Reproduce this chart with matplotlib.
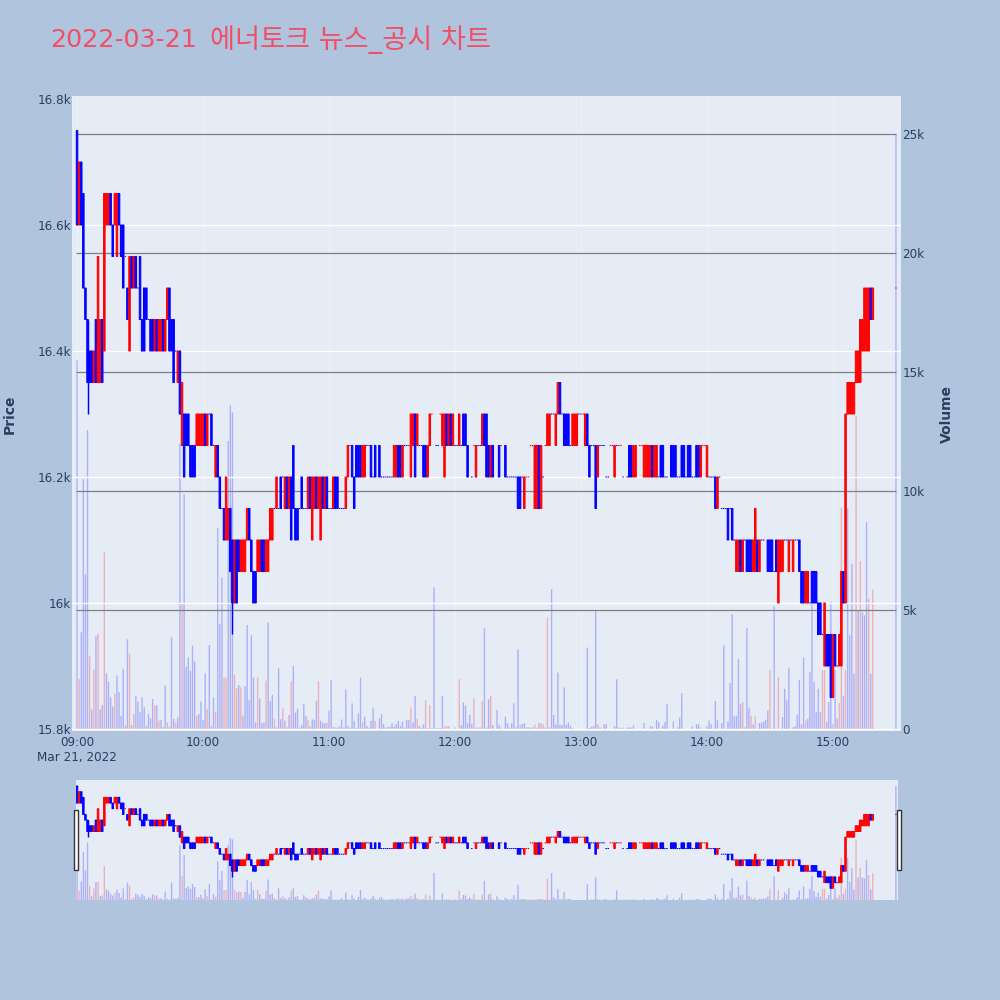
import numpy as np
import matplotlib
matplotlib.use('Agg')
import matplotlib.pyplot as plt
from matplotlib.patches import Rectangle

plt.rcParams['font.family'] = ['DejaVu Sans', 'Noto Sans CJK KR']

N = None
# 분봉 시가 (09:00 ~ 15:30), 한 줄에 10개
opens = [
    16750,16600,16700,16650,16500,16450,16400,16400,16350,16450,
    16350,16350,16450,16400,16600,16600,16650,16600,16600,16550,
    16650,16600,16600,16550,16500,16400,16550,16500,16550,16500,
    16550,16450,16500,16500,16450,16450,16450,16400,16450,16400,
    16400,16450,16400,16450,16500,16450,16450,16400,16350,16400,
    16250,16300,16300,16300,16250,16250,16250,16250,16250,16250,
    16250,16300,16250,16300,16300,16250,16200,16250,16200,16150,
    16150,16100,16100,16150,16100,16000,16100,16100,16050,16050,
    16050,16100,16150,16100,16050,16050,16050,16050,16100,16100,
    16050,16050,16100,16100,16150,16150,16150,16200,16200,16150,
    16200,16150,16200,16250,16150,16150,16150,16200,16150,16150,
    16150,16200,16100,16150,16200,16150,16100,16200,16150,16200,
    16150,16150,16150,16200,16200,16150,16150,16150,16150,16200,
    16250,16250,16200,16250,16250,16250,16200,16200,16250,16250,
    16250,16200,16250,N,16250,16200,16200,16200,16200,16200,
    16200,16200,16200,16250,16250,16200,16250,16250,16250,16200,
    16250,16300,16250,16250,16250,16250,16250,16200,16250,16300,
    N,16250,16250,16300,16250,16200,16300,16250,16300,16250,
    16250,16250,16250,16250,16300,16300,16250,N,16200,16250,
    16200,16250,16250,16250,16300,16300,16250,16200,16250,N,
    N,16250,16250,N,16250,16200,16200,16200,16200,16200,
    16200,16200,16200,16150,16200,16200,16250,16250,16150,16150,
    16250,16150,16200,16250,16250,16250,16300,16300,16250,16300,
    16350,16300,16300,16300,16300,16250,16250,16250,16250,16300,
    16300,16300,16250,16300,16250,16250,16250,16250,16200,16250,
    16250,16250,16200,16200,16250,16250,16200,16250,16250,16250,
    16200,N,16200,16250,16250,16200,16200,N,16250,16250,
    16200,16200,16200,16200,16250,16200,16200,16200,16250,16250,
    16200,16200,N,16250,16250,16250,16200,16200,16250,16250,
    16200,16250,16250,16200,16200,16250,16250,16200,16250,16250,
    16200,16200,16200,16200,16200,16150,16200,16150,16150,16150,
    16150,16150,16150,16100,16050,16050,16100,16050,16100,16100,
    16100,16100,16050,16050,16100,16050,16100,16100,N,16100,
    16100,16100,16050,16100,16000,16050,16050,16100,16100,16050,
    16100,16050,16100,16100,16100,16050,16050,16000,16000,16000,
    16050,16050,16050,16000,16000,15950,15900,15950,15950,15950,
    15850,15950,15900,15900,15900,16050,16000,16300,16300,16300,
    16300,16350,16350,16350,16400,16400,16400,16400,16500,16450,
    N,N,N,N,N,N,N,N,N,N,
    16500]
# 분봉 종가
closes = [
    16600,16700,16600,16500,16450,16350,16350,16350,16400,16350,
    16550,16450,16350,16650,16650,16650,16600,16550,16650,16650,
    16600,16550,16500,16550,16450,16550,16500,16550,16500,16500,
    16450,16400,16400,16450,16450,16400,16400,16450,16400,16450,
    16450,16400,16450,16500,16400,16400,16350,16400,16400,16300,
    16350,16200,16250,16250,16200,16200,16200,16300,16300,16300,
    16300,16250,16300,16300,16250,16250,16250,16200,16150,16150,
    16100,16200,16150,16050,16000,16100,16000,16050,16100,16100,
    16100,16150,16100,16050,16000,16000,16100,16100,16050,16050,
    16100,16100,16150,16150,16150,16200,16150,16150,16200,16200,
    16150,16200,16100,16150,16100,16100,16150,16150,16150,16150,
    16200,16150,16200,16200,16150,16200,16200,16150,16200,16150,
    16150,16150,16200,16150,16150,16150,16150,16150,16200,16250,
    16250,16200,16150,16200,16200,16200,16250,16250,16250,16250,
    16200,16200,16200,N,16200,16200,16200,16200,16200,16200,
    16200,16250,16250,16200,16200,16250,16250,16250,16250,16300,
    16300,16200,16300,16250,16250,16200,16200,16250,16300,16300,
    N,16250,16250,16300,16300,16300,16250,16300,16250,16300,
    16250,16250,16300,16250,16250,16250,16200,N,16200,16250,
    16250,16250,16250,16300,16250,16200,16200,16250,16200,N,
    N,16200,16250,N,16200,16200,16200,16200,16200,16200,
    16150,16150,16200,16200,16200,16200,16250,16250,16250,16250,
    16150,16250,16200,16250,16300,16300,16300,16300,16300,16350,
    16300,16300,16250,16250,16250,16250,16300,16300,16300,16300,
    16300,16300,16300,16250,16200,16250,16250,16150,16250,16250,
    16250,16250,16200,16200,16250,16250,16250,16250,16250,16250,
    16200,N,16200,16200,16200,16250,16250,N,16250,16250,
    16250,16250,16250,16250,16200,16250,16250,16200,16200,16200,
    16200,16200,N,16200,16200,16200,16200,16200,16200,16200,
    16200,16200,16200,16200,16200,16200,16200,16250,16250,16250,
    16250,16200,16200,16200,16150,16200,16200,16150,16150,16150,
    16100,16150,16100,16100,16100,16100,16050,16100,16100,16050,
    16050,16050,16100,16150,16050,16100,16100,16100,N,16050,
    16050,16050,16050,16050,16100,16100,16100,16100,16100,16100,
    16100,16100,16100,16100,16050,16000,16000,16050,16050,16000,
    16000,16000,16000,15950,15950,15950,16000,15900,15900,15850,
    15950,15900,15900,15950,16050,16000,16300,16350,16350,16350,
    16350,16400,16400,16450,16450,16500,16500,16500,16450,16500,
    N,N,N,N,N,N,N,N,N,N,
    16500]
# 분봉 거래량
volumes = [
    15500,2100,4060,10500,6500,12560,3070,830,2500,3900,
    4000,830,1000,7420,2340,1990,1330,940,1500,2250,
    1550,550,2530,170,3770,3180,170,630,1390,1150,
    700,1330,910,130,630,450,1260,1010,990,350,
    380,70,1820,270,100,3850,420,280,490,12000,
    5250,9860,2620,3010,2450,3500,2840,560,630,1150,
    380,2340,850,3530,130,1330,730,8430,4410,6360,
    2160,2160,12100,13600,13300,2270,1710,1850,1750,560,
    1800,4370,1220,3940,2170,270,2170,1290,240,270,
    2030,4480,1180,1430,410,70,2550,410,870,350,
    70,590,2000,2650,690,850,70,170,1050,550,
    380,100,410,380,1190,1990,350,270,240,270,
    770,2060,90,60,60,100,400,60,1670,130,
    50,1080,340,50,660,2160,270,520,130,50,
    340,900,340,0,450,620,200,60,80,100,
    240,100,200,340,130,310,60,380,380,910,
    270,1390,420,130,60,200,1220,40,1010,40,
    5950,40,40,40,1390,100,130,130,0,0,
    70,0,2090,170,1110,980,240,590,200,1300,
    60,60,60,1180,4230,60,1250,1400,170,0,
    800,170,70,0,520,240,60,240,1080,70,
    3350,170,210,240,70,70,50,70,190,50,
    240,240,190,60,4680,70,5880,590,190,2370,
    170,170,1750,170,270,130,40,0,0,0,
    0,0,0,3420,40,100,130,4970,200,70,
    0,200,200,0,0,0,130,2090,70,40,
    60,0,60,70,60,150,0,0,0,0,
    250,0,0,110,110,0,390,290,0,150,
    290,1040,0,0,320,0,70,480,1510,0,
    0,0,0,110,0,200,200,70,0,0,
    110,360,200,0,1180,360,0,250,3520,0,
    320,1930,4820,530,560,2930,1040,1130,70,4240,
    900,560,200,530,0,250,270,310,390,780,
    2470,0,5150,0,2180,0,500,1690,1200,2580,
    0,70,110,600,2070,200,3000,360,430,2400,
    5270,1970,710,1690,710,2470,2470,300,1130,5340,
    220,2470,430,1090,9290,1370,2470,9260,3940,6950,
    2320,13180,4990,7050,4920,4780,8700,5480,2320,5850,
    0,0,0,0,0,0,0,0,0,0,
    25000]
# 거래량 막대가 빨간색인 분
red_volume_minutes = [1,6,8,10,13,18,23,25,27,37,39,43,47,50,57,62,66,70,71,75,76,78,86,90,94,98,102,
                      110,115,119,136,142,159,162,166,168,175,176,177,182,189,193,197,202,211,218,
                      221,222,224,248,258,297,317,321,323,330,334,347,355,356,360,363,364,366,371,
                      373,377,379]
# 시가=종가인데 빨간색으로 보이는 분
red_doji_minutes = [23,130,139,158,169,173,189,202,214,215,216,217,223,240,241,254,255,258,259,268,269,
                    298,299,390]
# 몸통 밖으로 나온 꼬리
wick_minutes = [5, 74]
wick_lows = [16300, 15950]

price_ticks = [15800, 16000, 16200, 16400, 16600, 16800]
price_labels = ['15.8k', '16k', '16.2k', '16.4k', '16.6k', '16.8k']
volume_ticks = [0, 5000, 10000, 15000, 20000, 25000]
volume_labels = ['0', '5k', '10k', '15k', '20k', '25k']
hour_ticks = [0, 60, 120, 180, 240, 300, 360]
hour_labels = ['09:00', '10:00', '11:00', '12:00', '13:00', '14:00', '15:00']

BG = '#B0C4DE'
PLOT_BG = '#E5ECF6'
TEXT = '#2a3f5f'
FS = 8.64

o = np.array(opens, dtype=float)
c = np.array(closes, dtype=float)
vol = np.array(volumes, dtype=float)
minutes = np.arange(len(o))


def draw_volume(ax):
    colors = np.array(['blue'] * len(vol), dtype=object)
    colors[red_volume_minutes] = 'red'
    mask = vol > 0
    bars = ax.bar(minutes[mask], vol[mask], width=0.65, color=list(colors[mask]), alpha=0.25, linewidth=0)
    for b in bars:
        b.set_snap(False)


def draw_candles(ax, lw):
    ok = ~np.isnan(o)
    colors = np.where(c > o, 'red', 'blue').astype(object)
    colors[red_doji_minutes] = 'red'
    bars = ax.bar(minutes[ok], (c - o)[ok], bottom=o[ok], width=0.7, color=list(colors[ok]),
                  edgecolor=list(colors[ok]), linewidth=lw)
    for b in bars:
        b.set_snap(False)
    for m, low in zip(wick_minutes, wick_lows):
        ax.vlines(m, low, max(o[m], c[m]), color=colors[m], linewidth=lw * 1.4)


fig = plt.figure(figsize=(10, 10), dpi=100, facecolor=BG)

# 메인 차트
ax_vol = fig.add_axes([0.072, 0.269, 0.829, 0.635])
ax = ax_vol.twinx()
ax_vol.set_zorder(1)
ax.set_zorder(2)
ax.patch.set_visible(False)
ax_vol.set_facecolor(PLOT_BG)

ax_vol.set_xlim(-2.4, 392.4)
ax_vol.set_ylim(-84, 26597)
ax.set_ylim(15796.8, 16804.8)

ax_vol.set_axisbelow(True)
ax_vol.xaxis.grid(True, color='white', linewidth=0.7, alpha=0.3)
# 16.8k 줄은 원본에 안 보임
ax_vol.set_xticks(hour_ticks)
ax_vol.set_xticklabels(hour_labels)
ax_vol.yaxis.tick_right()
ax_vol.set_yticks(volume_ticks)
ax_vol.set_yticklabels(volume_labels)
ax.yaxis.tick_left()
ax.set_yticks(price_ticks)
ax.set_yticklabels(price_labels)
ax.hlines(price_ticks[:-1], -2.4, 392.4, color='white', linewidth=1.0, zorder=0)
draw_volume(ax_vol)
ax_vol.hlines(volume_ticks[1:], -0.5, 390, color='#808080', linewidth=0.9, zorder=3)
draw_candles(ax, 0.75)

ax_vol.tick_params(axis='x', length=0, pad=3.5, labelsize=FS, labelcolor=TEXT)
ax_vol.tick_params(axis='y', length=0, pad=1, labelsize=FS, labelcolor=TEXT)
ax.tick_params(axis='y', length=0, pad=0.5, labelsize=FS, labelcolor=TEXT)
for a in (ax, ax_vol):
    for s in a.spines.values():
        s.set_visible(False)

fig.text(0.037, 0.242, 'Mar 21, 2022', fontsize=FS, color=TEXT, va='center', ha='left')
fig.text(0.010, 0.586, 'Price', rotation=90, fontsize=10, fontweight='bold', color=TEXT,
         ha='center', va='center')
fig.text(0.947, 0.586, 'Volume', rotation=90, fontsize=10, fontweight='bold', color=TEXT,
         ha='center', va='center')
# 숫자와 한글 폭이 원본과 달라서 나눠서 씀
fig.text(0.05, 0.960, '2022-03-21', fontsize=18.2, color='#EF5068', ha='left', va='center')
fig.text(0.210, 0.960, '에너토크 뉴스_공시 차트', fontsize=19.6, color='#EF5068', ha='left', va='center')

# 레인지 슬라이더
sl_vol = fig.add_axes([0.076, 0.100, 0.822, 0.120])
sl_price = sl_vol.twinx()
sl_vol.set_zorder(1)
sl_price.set_zorder(2)
sl_price.patch.set_visible(False)
sl_vol.set_facecolor(PLOT_BG)
sl_vol.set_xlim(-0.5, 391)
sl_vol.set_ylim(0, 26300)
sl_price.set_ylim(15747, 16803)
draw_volume(sl_vol)
draw_candles(sl_price, 0.75)
for a in (sl_vol, sl_price):
    a.set_xticks([])
    a.set_yticks([])
    for s in a.spines.values():
        s.set_visible(False)

for left in (0.0735, 0.8965):
    fig.add_artist(Rectangle((left, 0.130), 0.004, 0.060, transform=fig.transFigure,
                             facecolor='white', edgecolor='#333333', linewidth=1, zorder=5))

fig.savefig('out.png', dpi=100, facecolor=BG)
